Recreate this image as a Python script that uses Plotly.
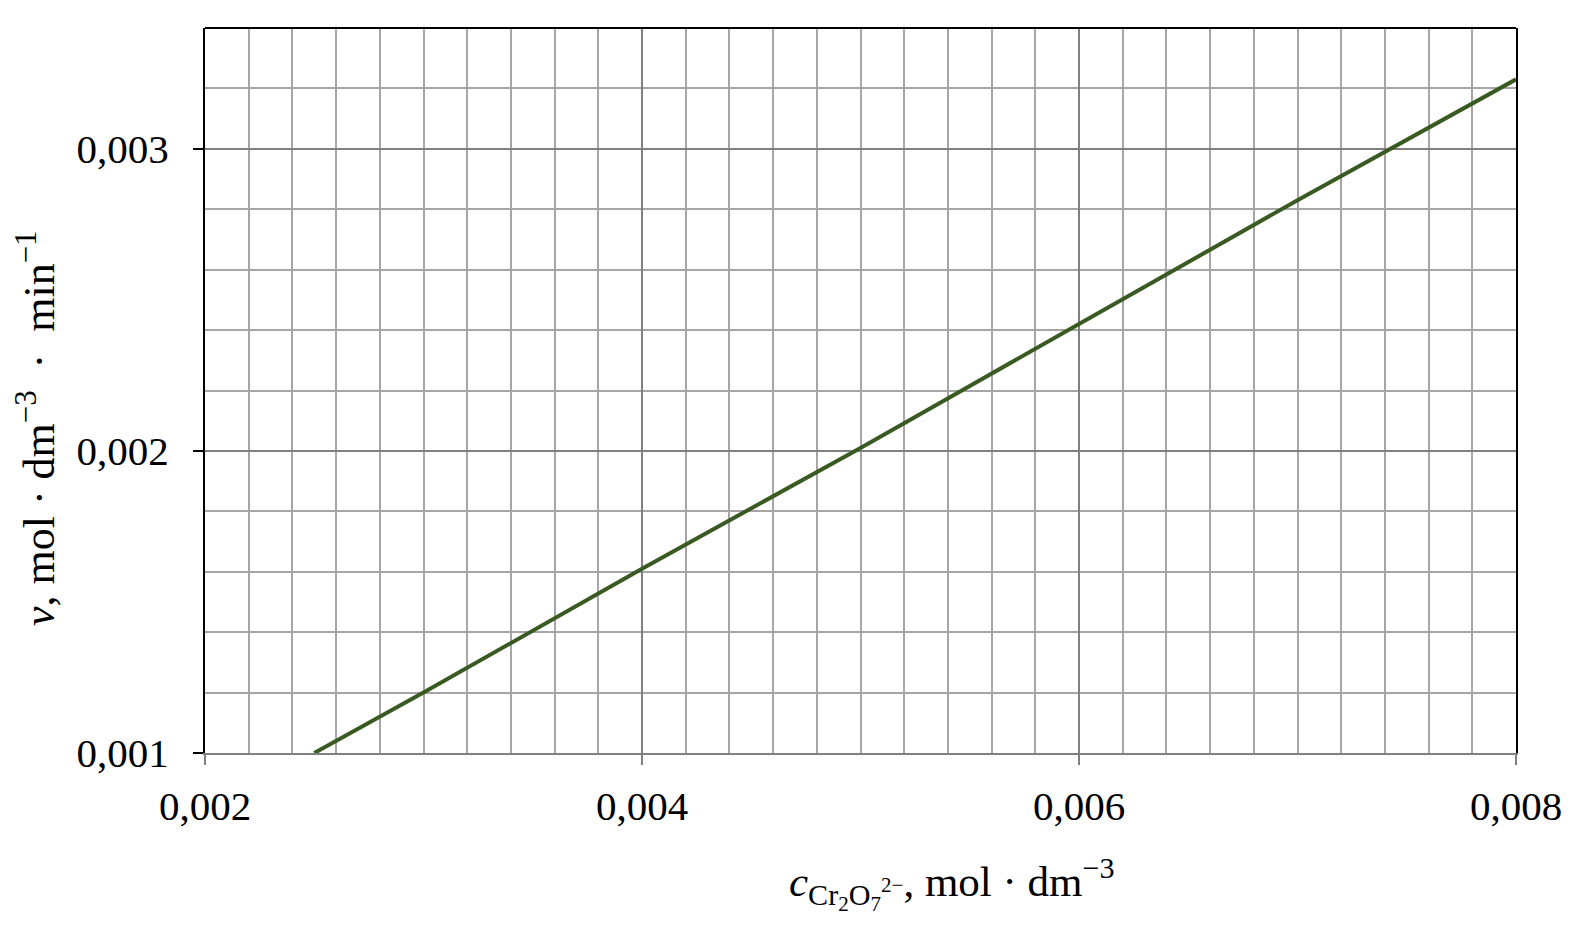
import plotly.graph_objects as go

# Werte
c_cr2o7 = [0.0025, 0.003, 0.004, 0.005, 0.006, 0.007, 0.008]
v_rate = [0.00100, 0.00120, 0.00161, 0.00201, 0.00242, 0.00283, 0.00323]

x_ticks = [0.002, 0.004, 0.006, 0.008]
y_ticks = [0.001, 0.002, 0.003]

font_name = "Liberation Serif"

fig = go.Figure()
fig.add_trace(go.Scatter(x=c_cr2o7, y=v_rate, mode='lines',
                         line=dict(color='#3a5a22', width=4), showlegend=False))

fig.update_layout(
    width=1569, height=914,
    margin=dict(l=197, r=61, t=20, b=169),
    plot_bgcolor='white', paper_bgcolor='white',
    separators=',.',
    font=dict(family=font_name, size=41, color='black'),
)

fig.update_xaxes(
    range=[0.002, 0.008], tickvals=x_ticks, tickformat='.3f',
    showgrid=True, gridcolor='#808080', gridwidth=1.5,
    minor=dict(dtick=0.0002, showgrid=True, gridcolor='#a6a6a6', gridwidth=1.5),
    showline=True, linecolor='#808080', linewidth=2,
    ticks='outside', ticklen=10, tickcolor='#808080', tickwidth=2,
    ticklabelstandoff=6,
    zeroline=False, automargin=False,
)
fig.update_yaxes(
    range=[0.001, 0.0034], tickvals=y_ticks, tickformat='.3f',
    showgrid=True, gridcolor='#808080', gridwidth=1.5,
    minor=dict(dtick=0.0002, showgrid=True, gridcolor='#a6a6a6', gridwidth=1.5),
    showline=True, linecolor='black', linewidth=2, mirror=True,
    ticks='outside', ticklen=10, tickcolor='black', tickwidth=2,
    ticklabelstandoff=16,
    zeroline=False, automargin=False,
)

# obere Rahmenlinie schwarz
fig.add_shape(type='line', xref='paper', yref='paper', x0=0, x1=1, y0=1, y1=1,
              line=dict(color='black', width=2))

# Achsentitel als Annotationen (leicht aus der Mitte versetzt wie im Original)
fig.add_annotation(
    text='<i>v</i>, mol · dm<sup>−3</sup>  ·  min<sup>−1</sup>',
    xref='paper', yref='paper', x=-0.129, y=0.448, textangle=-90,
    xanchor='center', yanchor='middle',
    showarrow=False, font=dict(family=font_name, size=44),
)
fig.add_annotation(
    text='<i>c</i><sub>Cr<sub>2</sub>O<sub>7</sub><sup>2−</sup></sub>, mol · dm<sup>−3</sup>',
    xref='paper', yref='paper', x=0.57, y=-0.133, yanchor='top',
    showarrow=False, font=dict(family=font_name, size=43),
)

fig.write_html("out.html")
